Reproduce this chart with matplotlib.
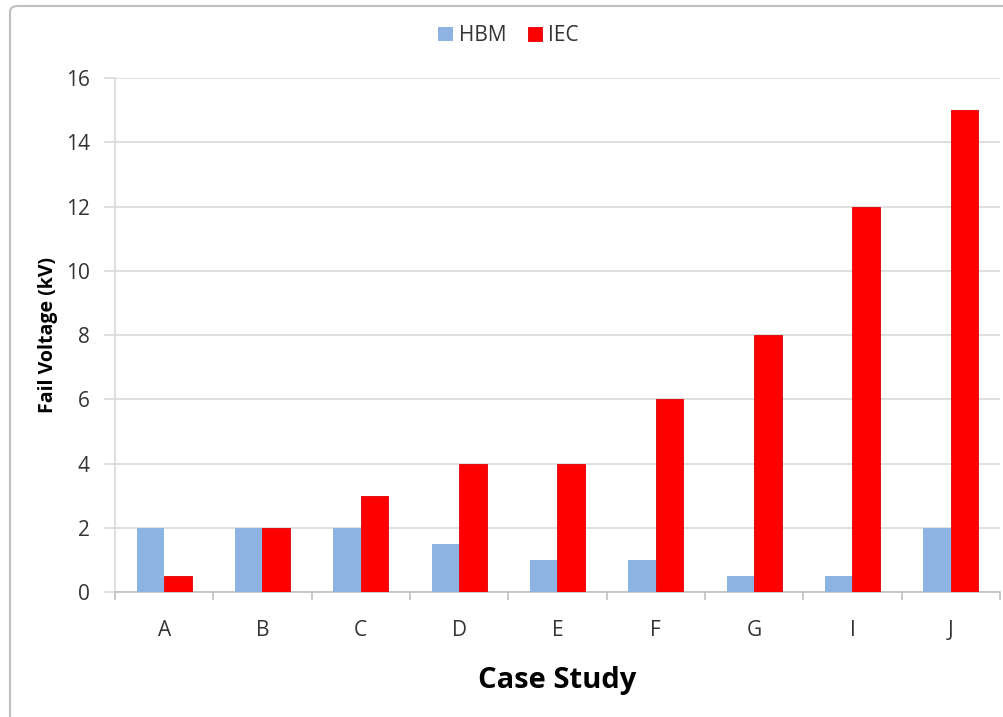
import matplotlib.pyplot as plt
import numpy as np
from matplotlib.patches import FancyBboxPatch

cases = ['A', 'B', 'C', 'D', 'E', 'F', 'G', 'I', 'J']
hbm = [2, 2, 2, 1.5, 1, 1, 0.5, 0.5, 2]
iec = [0.5, 2, 3, 4, 4, 6, 8, 12, 15]
y_ticks = [0, 2, 4, 6, 8, 10, 12, 14, 16]

plt.rcParams['font.family'] = ['Open Sans', 'DejaVu Sans']

fig = plt.figure(figsize=(10.04, 7.17), dpi=100)
ax = fig.add_axes([0.1145, 0.1743, 0.8815, 0.7169])

# outer chart border
border = FancyBboxPatch((10 / 1004, -0.05), 1.2, (717 - 6) / 717 + 0.05,
                        boxstyle='round,pad=0,rounding_size=0.008',
                        transform=fig.transFigure, fill=False,
                        edgecolor='#BFBFBF', linewidth=1.5)
fig.patches.append(border)

x = np.arange(len(cases))
w = 0.28
ax.bar(x - w / 2, hbm, w, color='#8DB3E2', label='HBM', zorder=3)
ax.bar(x + w / 2, iec, w, color='#FF0000', edgecolor='#E00000', linewidth=0.6,
       label='IEC', zorder=3)

ax.set_xlim(-0.5, len(cases) - 0.5)
ax.set_ylim(0, 16)
ax.set_yticks(y_ticks)
ax.set_yticklabels([str(t) for t in y_ticks], fontsize=15, color='#333333')
ax.set_xticks(x)
ax.set_xticklabels(cases, fontsize=15, color='#333333')
ax.tick_params(axis='x', length=0, pad=20)
ax.tick_params(axis='y', length=8, color='#D9D9D9', width=1.2, pad=10)
ax.set_xticks(np.arange(-0.5, len(cases), 1), minor=True)
ax.tick_params(axis='x', which='minor', length=6, color='#BFBFBF', width=1.2)

ax.grid(axis='y', color='#D9D9D9', linewidth=1.2, zorder=0)
for s in ['top', 'right']:
    ax.spines[s].set_visible(False)
ax.spines['left'].set_color('#D9D9D9')
ax.spines['bottom'].set_color('#BFBFBF')
ax.spines['left'].set_linewidth(1.2)
ax.spines['bottom'].set_linewidth(1.2)

ax.set_ylabel('Fail Voltage (kV)', fontsize=14, fontweight='bold', labelpad=6)
ax.set_xlabel('Case Study', fontsize=21, fontweight='bold', labelpad=18)

ax.legend(loc='lower center', bbox_to_anchor=(0.445, 1.025), ncol=2, frameon=False,
          fontsize=15, handlelength=0.7, handleheight=0.7, handletextpad=0.3,
          columnspacing=1.0, labelcolor='#333333')

fig.savefig('out.png', dpi=100)
